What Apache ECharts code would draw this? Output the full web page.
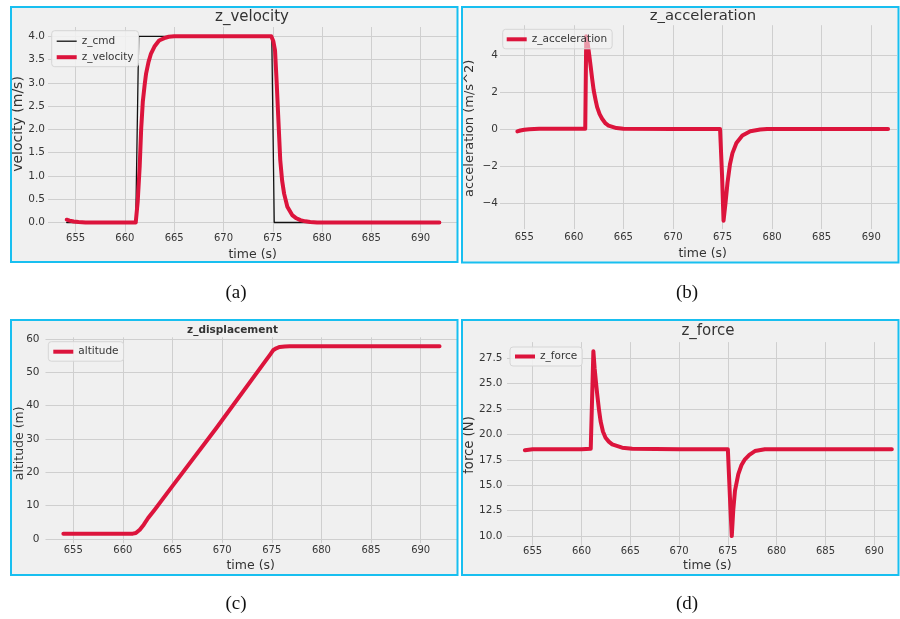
<!DOCTYPE html>
<html>
<head>
<meta charset="utf-8">
<script src="https://cdn.jsdelivr.net/npm/echarts@6/dist/echarts.min.js"></script>
<style>
html,body{margin:0;padding:0;background:#fff;}
#chart{width:900px;height:619px;}
</style>
</head>
<body>
<div id="chart"></div>
<script>
// ---------------- DATA ----------------
const xTicks = [655, 660, 665, 670, 675, 680, 685, 690];
const velTicks = [0, 0.5, 1, 1.5, 2, 2.5, 3, 3.5, 4];
const accTicks = [-4, -2, 0, 2, 4];
const altTicks = [0, 10, 20, 30, 40, 50, 60];
const forceTicks = [10, 12.5, 15, 17.5, 20, 22.5, 25, 27.5];

// (a) velocity command
const tCmd = [654.1, 661.1, 661.4, 674.9, 675.15, 691.9];
const zCmd = [0, 0, 4, 4, 0, 0];

// (a) measured velocity
const tVel = [654.1, 654.4, 654.8, 655.3, 656, 658, 660, 661.1, 661.3, 661.5, 661.65, 661.82, 662.0, 662.15, 662.4,
  662.65, 663.0, 663.47, 664.0, 664.45, 665.0, 670.0, 674.85, 675.05, 675.23, 675.4, 675.55, 675.76, 675.95,
  676.15, 676.48, 676.97, 677.4, 677.8, 678.3, 678.8, 679.5, 685, 691.9];
const zVel = [0.06, 0.04, 0.02, 0.01, 0, 0, 0, 0, 0.45, 1.2, 2.0, 2.6, 2.95, 3.2, 3.45,
  3.63, 3.78, 3.91, 3.96, 3.99, 4.0, 4.0, 4.0, 3.9, 3.7, 3.0, 2.3, 1.34, 0.9,
  0.62, 0.34, 0.16, 0.09, 0.05, 0.025, 0.01, 0, 0, 0];

// (b) acceleration
const tAcc = [654.3, 654.6, 655.0, 655.5, 656.5, 660, 661.15, 661.25, 661.4, 661.55, 661.7, 661.85, 662.0, 662.2,
  662.35, 662.6, 662.85, 663.2, 663.5, 664.3, 665.0, 670, 674.75, 674.95, 675.1, 675.3, 675.5, 675.75, 676.0,
  676.4, 677.0, 677.8, 678.8, 679.5, 685, 691.7];
const zAcc = [-0.13, -0.08, -0.04, -0.01, 0.01, 0.01, 0.02, 5.0, 4.6, 4.0, 3.36, 2.7, 2.09, 1.55,
  1.18, 0.8, 0.55, 0.3, 0.18, 0.05, 0.01, 0, 0, -2.5, -4.95, -4.0, -2.9, -1.9, -1.3,
  -0.75, -0.35, -0.12, -0.03, 0, 0, 0];

// (c) altitude
const tAlt = [654.0, 658, 661.0, 661.3, 661.7, 662.1, 662.54, 663.2, 664.72, 669.42, 674.46, 674.85, 675.13,
  675.45, 675.8, 676.3, 676.8, 680, 691.9];
const zAlt = [1.6, 1.6, 1.6, 1.8, 2.8, 4.3, 6.3, 8.8, 14.8, 33.3, 53.8, 55.4, 56.6,
  57.2, 57.6, 57.75, 57.8, 57.8, 57.8];

// (d) force
const tForce = [654.2, 654.6, 655.0, 660.0, 660.95, 661.22, 661.35, 661.5, 661.62, 661.8, 661.96, 662.2, 662.47,
  662.8, 663.15, 664.17, 665.2, 670, 675.0, 675.25, 675.4, 675.55, 675.73, 676.07, 676.4, 676.75, 677.2,
  677.77, 678.79, 685, 691.8];
const zForce = [18.45, 18.5, 18.55, 18.55, 18.6, 28.2, 26.5, 25.0, 23.9, 22.4, 21.3, 20.3, 19.68,
  19.3, 19.03, 18.7, 18.6, 18.55, 18.55, 13.0, 10.0, 12.5, 14.47, 16.1, 17.0, 17.56, 18.0,
  18.37, 18.55, 18.55, 18.55];

// ---------------- STYLE / LAYOUT ----------------
const RED = '#dc143c';
const GRIDC = '#cfcfcf';
const TXT = '#363636';
const FONT = 'DejaVu Sans';
const pair = (t, v) => t.map((x, i) => [x, v[i]]);
const minus = v => (v < 0 ? '\u2212' + Math.abs(v) : String(v));

const grids = [
  {left: 48, top: 27, width: 409, height: 204.8},
  {left: 500, top: 25.2, width: 397, height: 203.9},
  {left: 45.5, top: 337.3, width: 411.5, height: 205.7},
  {left: 507, top: 342.1, width: 390, height: 203.1}
];
const xr = [[652.2, 693.69, 1.5], [652.55, 692.6, 3], [652.2, 693.66, 2.5], [652.37, 692.33, 1.2]];
const yr = [
  [-0.2, 4.2, velTicks, v => v.toFixed(1), 3],
  [-5.4, 5.6, accTicks, minus, 2],
  [-1.2, 60.5, altTicks, v => String(v), 6],
  [9.1, 29.1, forceTicks, v => v.toFixed(1), 4.5]
];

const xAxis = xr.map((r, i) => ({
  type: 'value', gridIndex: i, min: r[0], max: r[1],
  axisLine: {show: false}, axisTick: {show: false, customValues: xTicks},
  axisLabel: {customValues: xTicks, fontSize: 10, color: TXT, fontFamily: FONT, margin: r[2]},
  splitLine: {show: true, lineStyle: {color: GRIDC, width: 1}}
}));
const yAxis = yr.map((r, i) => ({
  type: 'value', gridIndex: i, min: r[0], max: r[1],
  axisLine: {show: false}, axisTick: {show: false, customValues: r[2]},
  axisLabel: {customValues: r[2], formatter: r[3], fontSize: 10.5, color: TXT, fontFamily: FONT, margin: r[4]},
  splitLine: {show: true, lineStyle: {color: GRIDC, width: 1}}
}));

const lineS = (name, i, data, color, w) => ({
  name, type: 'line', xAxisIndex: i, yAxisIndex: i, data, symbol: 'none', showSymbol: false,
  animation: false, lineStyle: {color, width: w, cap: 'round', join: 'round'}, itemStyle: {color}
});

const series = [
  lineS('z_cmd', 0, pair(tCmd, zCmd), '#111111', 1.3),
  lineS('z_velocity', 0, pair(tVel, zVel), RED, 4),
  lineS('z_acceleration', 1, pair(tAcc, zAcc), RED, 4),
  lineS('altitude', 2, pair(tAlt, zAlt), RED, 4),
  lineS('z_force', 3, pair(tForce, zForce), RED, 4)
];

const legBase = {
  orient: 'vertical', itemWidth: 20, itemHeight: 4, itemGap: 5,
  textStyle: {fontSize: 10.5, color: TXT, fontFamily: FONT},
  backgroundColor: 'rgba(242,242,242,0.6)', borderColor: '#d6d6d6', borderWidth: 1, borderRadius: 3,
  selectedMode: false, z: 20
};
const thick = 'path://M0,0H20V4H0Z';
const thin = 'path://M0,0H20V1.3H0Z';
const legend = [
  Object.assign({}, legBase, {left: 51.7, top: 30.7, padding: [5, 5, 4, 5], backgroundColor: 'rgba(242,242,242,0.85)',
    data: [{name: 'z_cmd', icon: thin}, {name: 'z_velocity', icon: thick}]}),
  Object.assign({}, legBase, {left: 502.7, top: 29.3, padding: [4.5, 5, 4, 4], data: [{name: 'z_acceleration', icon: thick}]}),
  Object.assign({}, legBase, {left: 48.3, top: 341.7, padding: [4.5, 5, 4, 5], backgroundColor: 'rgba(242,242,242,0.85)', data: [{name: 'altitude', icon: thick}]}),
  Object.assign({}, legBase, {left: 510, top: 347, padding: [4, 5, 4, 5], backgroundColor: 'rgba(242,242,242,0.85)', data: [{name: 'z_force', icon: thick}]})
];

const BORDER = '#18bff0';
const panels = [[11, 7, 446.5, 255], [462, 7, 436.5, 255.5], [11, 320, 446.5, 255], [462, 320, 436.5, 255]];
const txt = (x, y, text, size, opts) => Object.assign({
  type: 'text', x, y, z: 50,
  style: {text, font: (opts && opts.weight ? opts.weight + ' ' : '') + size + 'px "' + ((opts && opts.family) || FONT) + '"',
    fill: (opts && opts.fill) || '#333', textAlign: 'center', textVerticalAlign: 'middle'}
}, opts && opts.rot ? {rotation: Math.PI / 2} : {});

const graphic = [];
panels.forEach(p => graphic.push({type: 'rect', z: -100, shape: {x: p[0], y: p[1], width: p[2], height: p[3]},
  style: {fill: '#f0f0f0', stroke: null}}));
panels.forEach(p => graphic.push({type: 'rect', z: 100, shape: {x: p[0], y: p[1], width: p[2], height: p[3]},
  style: {fill: null, stroke: BORDER, lineWidth: 2}}));
graphic.push(
  txt(252, 16.7, 'z_velocity', 15),
  txt(703, 15.7, 'z_acceleration', 14.8),
  txt(232.5, 330.7, 'z_displacement', 10.5, {weight: 'bold'}),
  txt(708, 330.7, 'z_force', 15),
  txt(252.7, 254.3, 'time (s)', 12.5),
  txt(702.7, 253.3, 'time (s)', 12.5),
  txt(250.7, 565.7, 'time (s)', 12.5),
  txt(707.3, 565.7, 'time (s)', 12.5),
  txt(18.5, 124, 'velocity (m/s)', 14, {rot: true}),
  txt(470, 128.3, 'acceleration (m/s^2)', 13, {rot: true}),
  txt(19.5, 443.3, 'altitude (m)', 12.5, {rot: true}),
  txt(470, 445, 'force (N)', 13.2, {rot: true}),
  txt(236, 293, '(a)', 19, {family: 'Liberation Serif', fill: '#111'}),
  txt(687, 293, '(b)', 19, {family: 'Liberation Serif', fill: '#111'}),
  txt(236, 604, '(c)', 19, {family: 'Liberation Serif', fill: '#111'}),
  txt(687, 604, '(d)', 19, {family: 'Liberation Serif', fill: '#111'})
);

const chart = echarts.init(document.getElementById('chart'), null, {renderer: 'canvas'});
chart.setOption({
  animation: false,
  backgroundColor: '#ffffff',
  grid: grids.map(g => Object.assign({containLabel: false, show: false}, g)),
  xAxis, yAxis, series, legend, graphic
});
</script>
</body>
</html>
